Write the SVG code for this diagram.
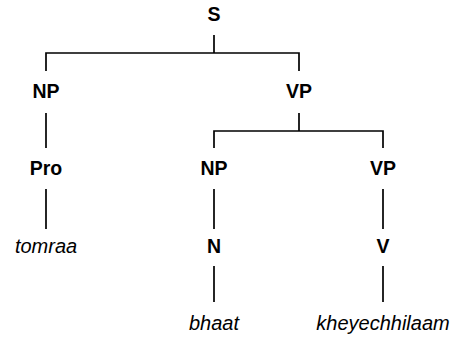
<svg xmlns="http://www.w3.org/2000/svg" width="454" height="337" viewBox="0 0 454 337">
<style>
.c{fill:#000;font-family:"Liberation Sans",Arial,sans-serif;font-weight:bold;font-size:19.5px;text-anchor:middle}
.w{fill:#000;font-family:"Liberation Sans",Arial,sans-serif;font-style:italic;font-size:20px;text-anchor:middle}
.e{stroke:#000;stroke-width:1.7;fill:none;stroke-linecap:butt}
</style>
<rect width="454" height="337" fill="#fff"/>
<g id="connectors">
<path class="e" d="M214,35V53M46,71V53H299V71"/>
<path class="e" d="M46,113V148"/>
<path class="e" d="M299,113V131M214,148V131H383V148"/>
<path class="e" d="M46,189V229M214,189V229M383,189V229"/>
<path class="e" d="M214,266V302M383,266V302"/>
</g>
<g id="S"><text class="c" x="214" y="21">S</text></g>
<g id="NP1"><text class="c" x="46" y="98">NP</text></g>
<g id="VP1"><text class="c" x="299" y="98">VP</text></g>
<g id="Pro"><text class="c" x="46" y="175">Pro</text></g>
<g id="NP2"><text class="c" x="214" y="175">NP</text></g>
<g id="VP2"><text class="c" x="383" y="175">VP</text></g>
<g id="tomraa"><text class="w" x="46" y="253">tomraa</text></g>
<g id="N"><text class="c" x="214" y="253">N</text></g>
<g id="V"><text class="c" x="383" y="253">V</text></g>
<g id="bhaat"><text class="w" x="214" y="330">bhaat</text></g>
<g id="kheyechhilaam"><text class="w" x="383" y="330">kheyechhilaam</text></g>
</svg>
